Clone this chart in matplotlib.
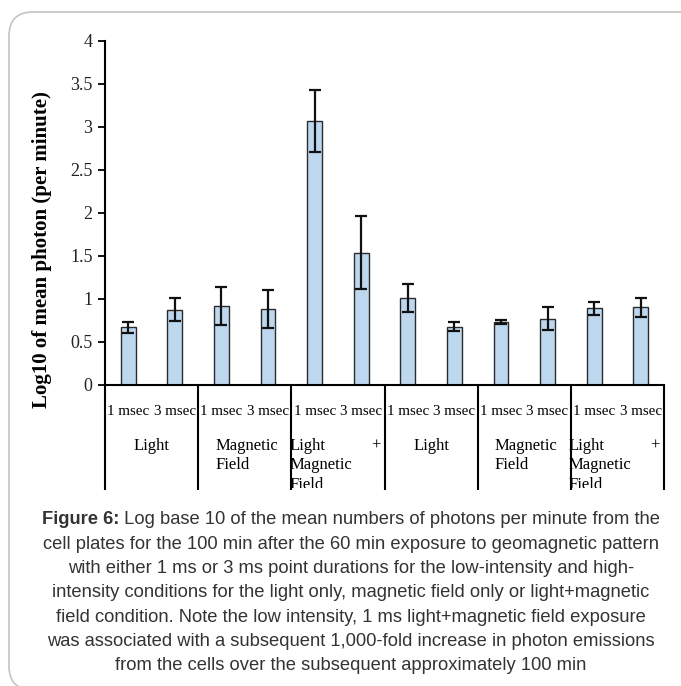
import numpy as np
import matplotlib
matplotlib.use("Agg")
import matplotlib.pyplot as plt
from matplotlib.patches import FancyBboxPatch, Rectangle
import matplotlib.transforms as mtransforms

# data
durations = ['1 msec', '3 msec'] * 6
groups = ['Light', 'Magnetic Field', 'Light + Magnetic Field',
          'Light', 'Magnetic Field', 'Light + Magnetic Field']
means = [0.67, 0.875, 0.92, 0.885, 3.07, 1.54, 1.01, 0.68, 0.73, 0.77, 0.89, 0.905]
errs = [0.065, 0.135, 0.225, 0.22, 0.355, 0.425, 0.16, 0.055, 0.025, 0.135, 0.08, 0.11]

caption_bold = 'Figure 6:'
caption_lines = [
    ' Log base 10 of the mean numbers of photons per minute from the',
    'cell plates for the 100 min after the 60 min exposure to geomagnetic pattern',
    'with either 1 ms or 3 ms point durations for the low-intensity and high-',
    'intensity conditions for the light only, magnetic field only or light+magnetic',
    'field condition. Note the low intensity, 1 ms light+magnetic field exposure',
    'was associated with a subsequent 1,000-fold increase in photon emissions',
    'from the cells over the subsequent approximately 100 min',
]

W, H = 681, 686
fig = plt.figure(figsize=(W / 100, H / 100), dpi=100)

# rounded frame
frame = FancyBboxPatch((9 / W, 1 - 690 / H), 700 / W, (690 - 12) / H,
                       boxstyle='round,pad=0,rounding_size=0.035',
                       transform=fig.transFigure, fc='white', ec='#c4c4c4', lw=1.2,
                       zorder=-10)
fig.patches.append(frame)

ax_l, ax_r, ax_t, ax_b = 105, 664, 41, 385
ax = fig.add_axes([ax_l / W, 1 - ax_b / H, (ax_r - ax_l) / W, (ax_b - ax_t) / H])
ax.patch.set_alpha(0)

x = np.arange(len(means))
ax.bar(x, means, width=0.32, color='#bdd7ee', edgecolor='#2b2b2b', linewidth=1.0,
       yerr=errs, error_kw=dict(ecolor='#111111', elinewidth=1.6, capsize=4, capthick=1.6))

ax.set_xlim(-0.5, len(means) - 0.5)
ax.set_ylim(0, 4)
ax.set_yticks([0, 0.5, 1, 1.5, 2, 2.5, 3, 3.5, 4])
ax.set_yticklabels(['0', '0.5', '1', '1.5', '2', '2.5', '3', '3.5', '4'])
ax.set_xticks([])
for s in ['top', 'right']:
    ax.spines[s].set_visible(False)
for s in ['left', 'bottom']:
    ax.spines[s].set_linewidth(1.5)
ax.tick_params(axis='y', direction='out', length=5, width=1.3, pad=4,
               labelsize=13, labelcolor='#222222')
for lab in ax.get_yticklabels():
    lab.set_fontfamily('Liberation Serif')

fig.text(42 / W, 1 - 250 / H, 'Log10 of mean photon (per minute)', rotation=90,
         ha='center', va='center', fontsize=15, fontweight='bold',
         family='Liberation Serif')

# category table under the axis
trans = mtransforms.blended_transform_factory(ax.transData, ax.transAxes)
px = 1 / (ax_b - ax_t)  # one pixel in axes units (vertical)
dx = 1 / ((ax_r - ax_l) / len(means))  # one pixel in data units (horizontal)
tbl_bottom = -(490 - ax_b) * px
for k in range(7):
    ax.plot([2 * k - 0.5, 2 * k - 0.5], [0, tbl_bottom], color='black', lw=1.5,
            transform=trans, clip_on=False, solid_capstyle='butt')

for i, d in enumerate(durations):
    ax.text(x[i], -(412 - ax_b) * px, d, ha='center', va='center', fontsize=10.8,
            family='Liberation Serif', transform=trans)

clip_rect = Rectangle((0, 1 - 488 / H), 1, 488 / H - 0.2,
                      transform=fig.transFigure, visible=False)
fig.patches.append(clip_rect)
tfs = 12
row_y = [-(446 - ax_b) * px, -(465 - ax_b) * px, -(485 - ax_b) * px]
for g, name in enumerate(groups):
    left = 2 * g - 0.5
    if name == 'Light':
        ax.text(left + 1.0, row_y[0], name, ha='center', va='center', fontsize=tfs,
                family='Liberation Serif', transform=trans)
    elif name == 'Magnetic Field':
        for row, word in zip(row_y, ['Magnetic', 'Field']):
            ax.text(left + 17 * dx, row, word, ha='left', va='center', fontsize=tfs,
                    family='Liberation Serif', transform=trans)
    else:
        ax.text(left - 2 * dx, row_y[0], 'Light', ha='left', va='center', fontsize=tfs,
                family='Liberation Serif', transform=trans)
        ax.text(left + 2 - 4 * dx, row_y[0], '+', ha='right', va='center', fontsize=tfs,
                family='Liberation Serif', transform=trans)
        for row, word in zip(row_y[1:], ['Magnetic', 'Field']):
            t = ax.text(left - 2 * dx, row, word, ha='left', va='center', fontsize=tfs,
                        family='Liberation Serif', transform=trans)
            t.set_clip_on(True)
            t.set_clip_path(clip_rect)

# caption
cap_size = 13.2
cap_color = '#333333'
cap_x = 351
cap_y0 = 520
cap_dy = 24.3
fig.canvas.draw()
r = fig.canvas.get_renderer()
tb = fig.text(0, 0, caption_bold, fontsize=cap_size, fontweight='bold',
              family='Liberation Sans', color=cap_color, va='center')
tr = fig.text(0, 0, caption_lines[0], fontsize=cap_size, family='Liberation Sans',
              color=cap_color, va='center')
wb = tb.get_window_extent(r).width
wr = tr.get_window_extent(r).width
x0 = cap_x - (wb + wr) / 2
tb.set_position((x0 / W, 1 - cap_y0 / H))
tr.set_position(((x0 + wb) / W, 1 - cap_y0 / H))
for j, line in enumerate(caption_lines[1:], start=1):
    fig.text(cap_x / W, 1 - (cap_y0 + j * cap_dy) / H, line, ha='center', va='center',
             fontsize=cap_size, family='Liberation Sans', color=cap_color)

fig.savefig('out.png', dpi=100)
